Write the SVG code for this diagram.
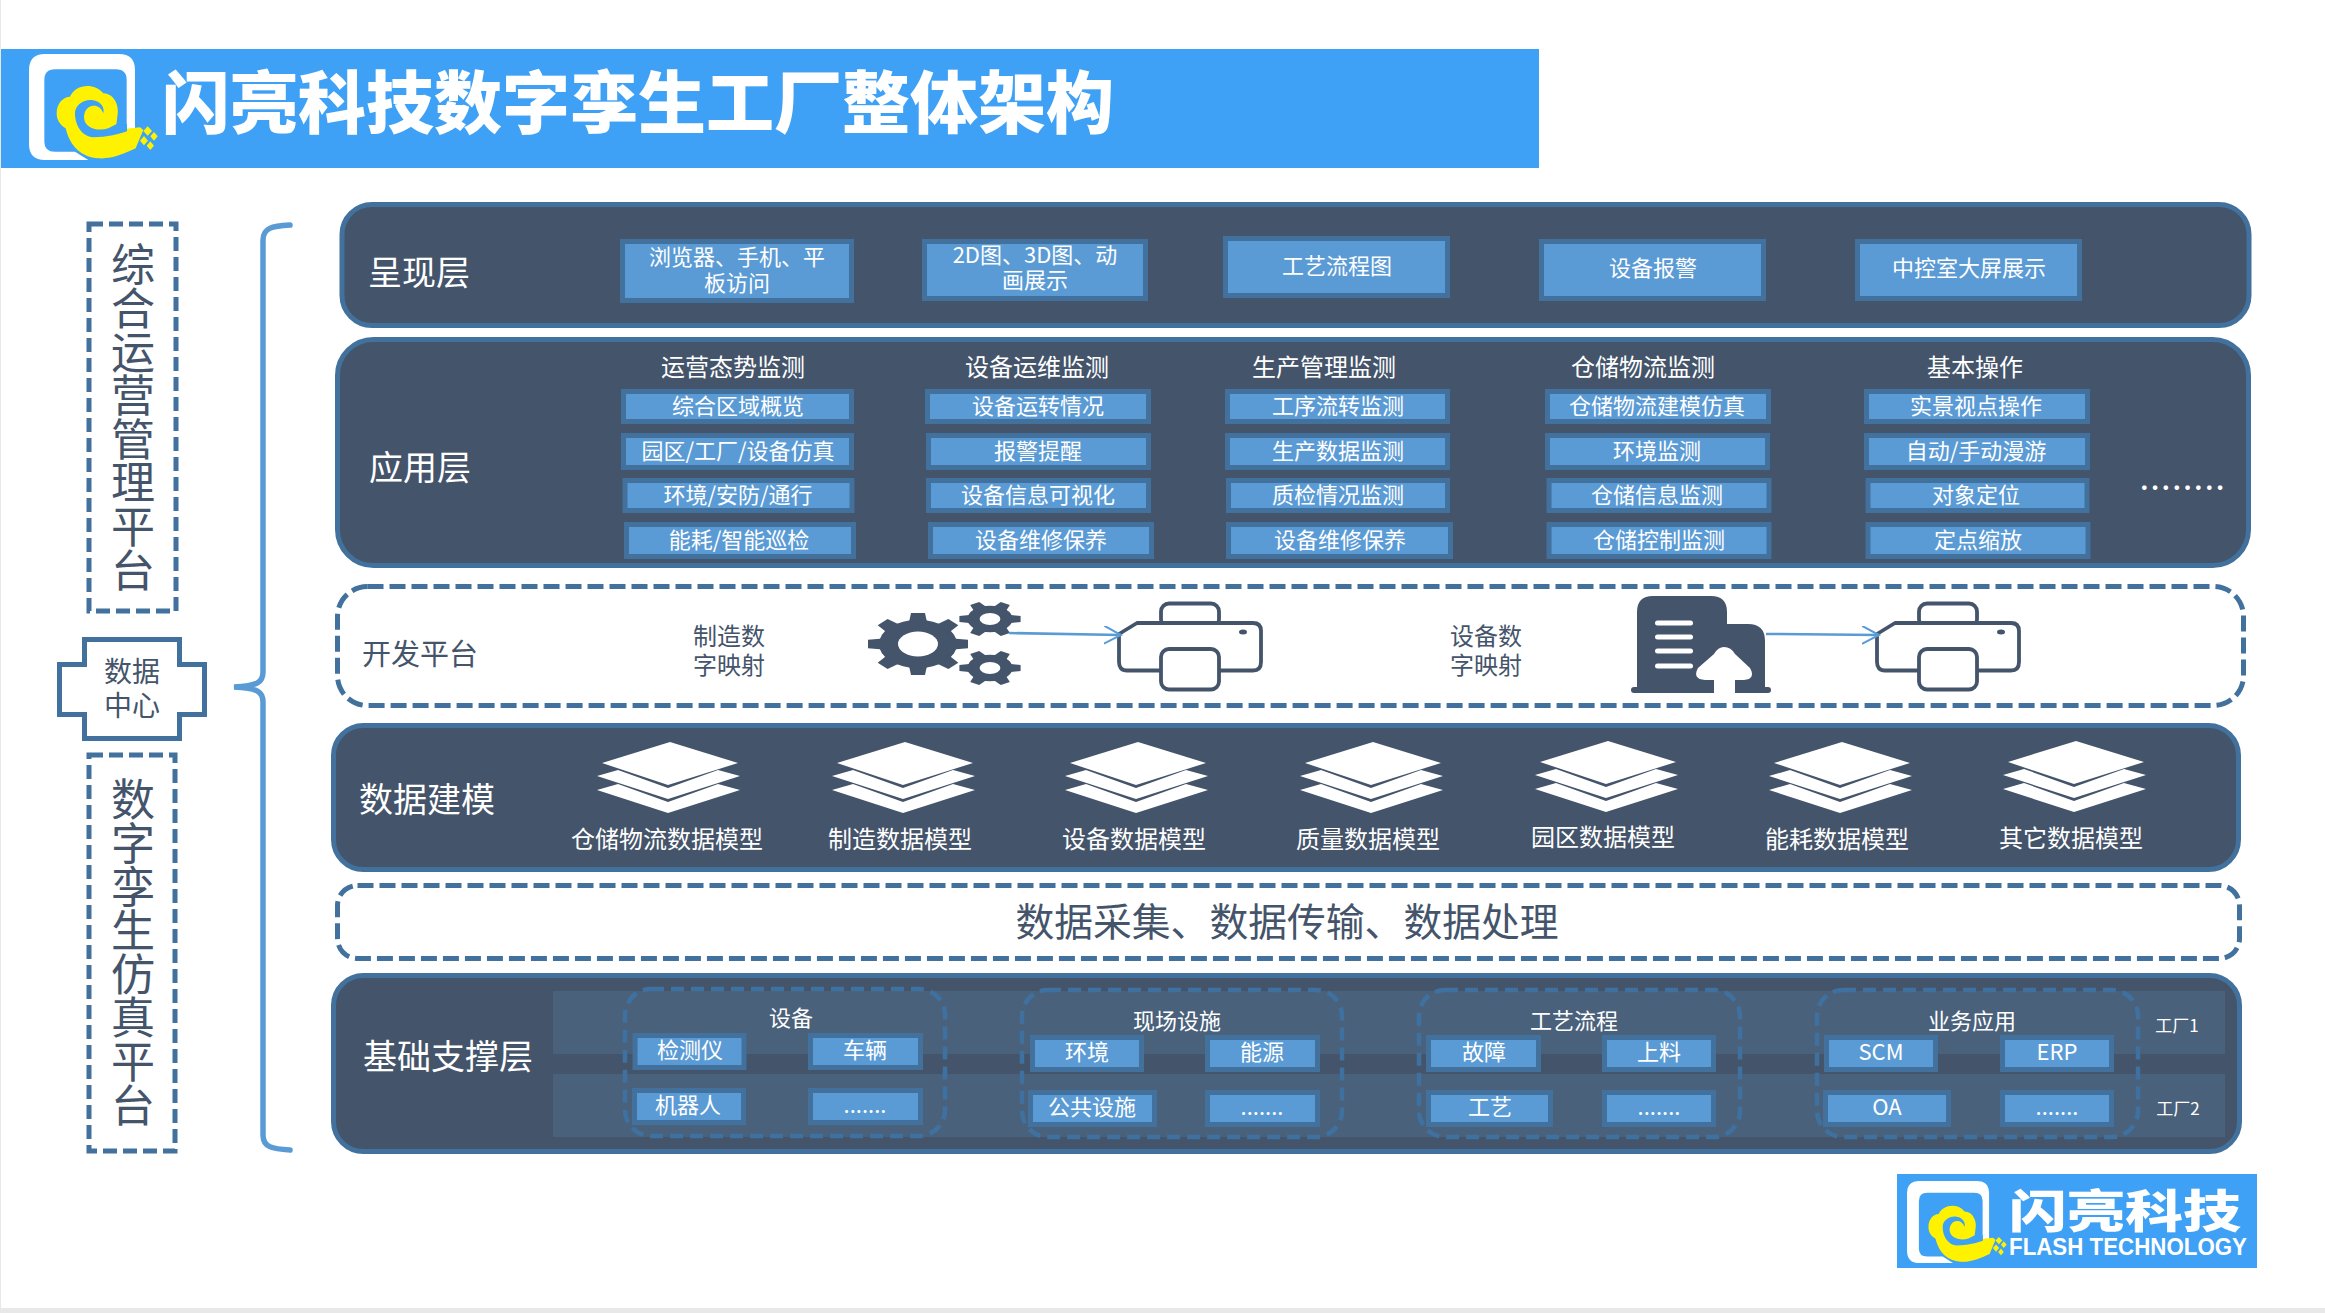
<svg xmlns="http://www.w3.org/2000/svg" width="2325" height="1313" viewBox="0 0 2325 1313">
<style>
text{font-family:"Noto Sans CJK SC","Noto Sans",sans-serif;text-anchor:middle;dominant-baseline:central}
.vert{writing-mode:vertical-rl;text-orientation:upright;letter-spacing:-.4px}
.layer{fill:#44546A;stroke:#41719C;stroke-width:5}
.dash{fill:#fff;stroke:#41719C;stroke-width:5;stroke-dasharray:16 6}
.gdash{fill:none;stroke:#3F71A0;stroke-width:4.5;stroke-dasharray:13 7}
.btn{fill:#5B9BD5;stroke:#41719C;stroke-width:5}
.bt{fill:#fff;font-size:22px}
.head{fill:#fff;font-size:24px}
.lbl{fill:#fff;font-size:34px}
.dark{fill:#44546A}
.wt{fill:#fff}
.band{fill:#4A617C}
.wire{fill:none;stroke:#5B9BD5;stroke-width:2.500}
.prn{fill:#fff;stroke:#44546A;stroke-width:3.800;stroke-linejoin:round}
</style>
<defs>
<marker id="arr" markerWidth="20" markerHeight="20" refX="17" refY="9" orient="auto" markerUnits="userSpaceOnUse"><path d="M0,0 L17,9 L0,18" fill="none" stroke="#5B9BD5" stroke-width="2"/></marker>
<path id="t8" d="M-18,-70 L-14,-100 H14 L18,-70Z"/>
<g id="gear8"><circle r="78"/><use href="#t8"/><use href="#t8" transform="rotate(45)"/><use href="#t8" transform="rotate(90)"/><use href="#t8" transform="rotate(135)"/><use href="#t8" transform="rotate(180)"/><use href="#t8" transform="rotate(225)"/><use href="#t8" transform="rotate(270)"/><use href="#t8" transform="rotate(315)"/><circle r="40" fill="#fff"/></g>
<path id="t6" d="M-24,-60 L-17,-100 H17 L24,-60Z"/>
<g id="gear6"><circle r="74"/><use href="#t6" transform="rotate(90)"/><use href="#t6" transform="rotate(150)"/><use href="#t6" transform="rotate(210)"/><use href="#t6" transform="rotate(270)"/><use href="#t6" transform="rotate(330)"/><use href="#t6" transform="rotate(30)"/><circle r="34" fill="#fff"/></g>
<g id="stack" fill="#fff"><path d="M2,0 L70,21 L0,43 L-66,21Z"/><path d="M-71,34 L-50,28 L0,46 L50,28 L72,34 L0,57Z"/><path d="M-71,48 L-50,42 L0,60 L50,42 L72,48 L0,71Z"/></g>
<g id="printer"><rect class="prn" x="44" y="3.500" width="58" height="24" rx="8"/><path class="prn" d="M20,23 H136 Q144,23 144,31 V62 Q144,70.500 136,70.500 H10 Q2,70.500 2,62 V34 Z"/><rect class="prn" x="44" y="49" width="58" height="40.500" rx="8"/><ellipse cx="126" cy="32" rx="4" ry="2.500" fill="#44546A"/></g>
<g id="logo" transform="translate(25,50) scale(.3333)">
<path fill="#fff" d="M60,12 H282 Q330,12 330,60 V238 H305 V90 Q305,58 273,58 H90 Q58,58 58,90 V275 Q58,305 90,305 H150 L190,330 H60 Q12,330 12,282 V60 Q12,12 60,12Z"/>
<path fill="#FFF200" d="M95,190 C95,160 115,140 135,140 C150,105 205,95 235,130 C265,130 285,165 277,200 C275,215 275,225 270,240 L345,232 L355,240 L332,295 C300,310 260,328 220,325 C170,322 135,290 122,235 C105,225 95,210 95,190Z"/>
<path fill="#3FA1F5" d="M150,190 C150,165 175,148 200,150 C225,152 240,170 235,190 C228,172 215,165 200,168 C182,172 172,195 180,215 C190,238 225,243 250,235 L275,222 L306,222 L306,244 C285,252 245,262 205,262 C170,260 150,225 150,190Z"/>
<path fill="#FFF200" d="M368,229 l13,14 l-13,14 l-13,-14Z M387,246 l11,13 l-11,13 l-11,-13Z M357,258 l12,14 l-12,14 l-12,-14Z M376,274 l11,13 l-11,13 l-11,-13Z"/>
</g>
</defs>
<rect width="2325" height="1313" fill="#fff"/>
<rect x="0" y="0" width="1" height="1313" fill="#e8e8e8"/>
<rect x="0" y="1308" width="2325" height="5" fill="#e8e8e8"/>

<g id="title">
<rect x="1" y="49" width="1538" height="119" fill="#3FA1F5"/>
<use href="#logo"/>
<text x="638" y="98.500" fill="#fff" font-size="68" font-weight="900">闪亮科技数字孪生工厂整体架构</text>
</g>

<g id="brand">
<rect x="1897" y="1174" width="360" height="94" fill="#3FA1F5"/>
<use href="#logo" transform="translate(1884.6,1139.2) scale(.774)"/>
<text transform="translate(2125,1208) scale(1,.78)" fill="#fff" font-size="58" font-weight="900">闪亮科技</text>
<text x="2128" y="1247" fill="#fff" font-size="23" font-weight="700" textLength="238" lengthAdjust="spacingAndGlyphs" style="font-family:'Liberation Sans',sans-serif">FLASH TECHNOLOGY</text>
</g>

<g id="platform-ops">
<rect class="dash" x="89" y="224" width="87" height="387" style="stroke-dasharray:14 6"/>
<text class="dark vert" font-size="44" x="133" y="417">综合运营管理平台</text>
</g>
<g id="data-center">
<path d="M84.500,639.500 H179.500 V664.500 H204.500 V714.500 H179.500 V738.500 H84.500 V714.500 H59.500 V664.500 H84.500Z" fill="#fff" stroke="#41719C" stroke-width="5"/>
<text class="dark" font-size="28" x="132" y="670">数据</text>
<text class="dark" font-size="28" x="132" y="704">中心</text>
</g>
<g id="platform-sim">
<rect class="dash" x="89" y="755" width="86" height="396" style="stroke-dasharray:14 6"/>
<text class="dark vert" font-size="44" x="133" y="952">数字孪生仿真平台</text>
</g>
<g id="brace"><path d="M290,225 C272,226 263,228 263,240 V672 C263,682 258,686 234,687 C258,688 263,692 263,702 V1135 C263,1147 272,1149 290,1150" fill="none" stroke="#5B9BD5" stroke-width="5.500" stroke-linecap="round"/></g>

<g id="layer-present">
<rect class="layer" x="342" y="204.500" width="1907" height="121" rx="30"/>
<text class="lbl" x="419" y="270">呈现层</text>
<g id="p1"><rect class="btn" x="622.500" y="241.500" width="229" height="59"/><text class="bt" x="737" y="255">浏览器、手机、平</text><text class="bt" x="737" y="281">板访问</text></g>
<g id="p2"><rect class="btn" x="924.500" y="241.500" width="221" height="57"/><text class="bt" x="1035" y="253">2D图、3D图、动</text><text class="bt" x="1035" y="278">画展示</text></g>
<g id="p3"><rect class="btn" x="1225.500" y="238.500" width="222" height="57"/><text class="bt" x="1337" y="264">工艺流程图</text></g>
<g id="p4"><rect class="btn" x="1541.500" y="241.500" width="222" height="57"/><text class="bt" x="1653" y="266">设备报警</text></g>
<g id="p5"><rect class="btn" x="1857.500" y="241.500" width="222" height="57"/><text class="bt" x="1969" y="266">中控室大屏展示</text></g>
</g>

<g id="layer-app">
<rect class="layer" x="337.500" y="339.500" width="1911" height="226" rx="36"/>
<text class="lbl" x="420" y="465">应用层</text>
<text class="head" x="733" y="365">运营态势监测</text>
<text class="head" x="1037" y="365">设备运维监测</text>
<text class="head" x="1324" y="365">生产管理监测</text>
<text class="head" x="1643" y="365">仓储物流监测</text>
<text class="head" x="1975" y="365">基本操作</text>
<g id="a11"><rect class="btn" x="623.500" y="391.500" width="228" height="30"/><text class="bt" x="738" y="404">综合区域概览</text></g>
<g id="a12"><rect class="btn" x="623.500" y="435.500" width="228" height="32"/><text class="bt" x="738" y="449">园区/工厂/设备仿真</text></g>
<g id="a13"><rect class="btn" x="625" y="480.500" width="227" height="30"/><text class="bt" x="738" y="493">环境/安防/通行</text></g>
<g id="a14"><rect class="btn" x="626.500" y="524.500" width="227" height="32"/><text class="bt" x="739" y="538">能耗/智能巡检</text></g>
<g id="a21"><rect class="btn" x="927.500" y="391.500" width="221" height="30"/><text class="bt" x="1038" y="404">设备运转情况</text></g>
<g id="a22"><rect class="btn" x="928.500" y="435.500" width="220" height="32"/><text class="bt" x="1038" y="449">报警提醒</text></g>
<g id="a23"><rect class="btn" x="928.500" y="480.500" width="220" height="30"/><text class="bt" x="1038" y="493">设备信息可视化</text></g>
<g id="a24"><rect class="btn" x="930.500" y="524.500" width="221" height="32"/><text class="bt" x="1041" y="538">设备维修保养</text></g>
<g id="a31"><rect class="btn" x="1227.500" y="391.500" width="220" height="30"/><text class="bt" x="1338" y="404">工序流转监测</text></g>
<g id="a32"><rect class="btn" x="1227.500" y="435.500" width="220" height="32"/><text class="bt" x="1338" y="449">生产数据监测</text></g>
<g id="a33"><rect class="btn" x="1228.500" y="480.500" width="219" height="30"/><text class="bt" x="1338" y="493">质检情况监测</text></g>
<g id="a34"><rect class="btn" x="1228.500" y="524.500" width="222" height="32"/><text class="bt" x="1340" y="538">设备维修保养</text></g>
<g id="a41"><rect class="btn" x="1547.500" y="391.500" width="221" height="30"/><text class="bt" x="1657" y="404">仓储物流建模仿真</text></g>
<g id="a42"><rect class="btn" x="1547.500" y="435.500" width="220" height="32"/><text class="bt" x="1657" y="449">环境监测</text></g>
<g id="a43"><rect class="btn" x="1549" y="480.500" width="220" height="30"/><text class="bt" x="1657" y="493">仓储信息监测</text></g>
<g id="a44"><rect class="btn" x="1549" y="524.500" width="220" height="32"/><text class="bt" x="1659" y="538">仓储控制监测</text></g>
<g id="a51"><rect class="btn" x="1866.500" y="391.500" width="221" height="30"/><text class="bt" x="1976" y="404">实景视点操作</text></g>
<g id="a52"><rect class="btn" x="1866.500" y="435.500" width="221" height="32"/><text class="bt" x="1976" y="449">自动/手动漫游</text></g>
<g id="a53"><rect class="btn" x="1868" y="480.500" width="219" height="30"/><text class="bt" x="1976" y="493">对象定位</text></g>
<g id="a54"><rect class="btn" x="1868" y="524.500" width="220" height="32"/><text class="bt" x="1978" y="538">定点缩放</text></g>
<text x="2184" y="490" fill="#fff" font-size="30" font-weight="700" letter-spacing="3.700" style="font-family:Lato,sans-serif;dominant-baseline:auto">........</text>
</g>

<g id="layer-dev">
<rect class="dash" x="337.500" y="586.500" width="1906" height="119" rx="30"/>
<text class="dark" font-size="29" x="420" y="652">开发平台</text>
<text class="dark" font-size="24" x="729" y="634">制造数</text>
<text class="dark" font-size="24" x="729" y="663">字映射</text>
<text class="dark" font-size="24" x="1486" y="634">设备数</text>
<text class="dark" font-size="24" x="1486" y="663">字映射</text>
<g id="gears" fill="#44546A">
<use href="#gear8" transform="translate(918,644) scale(.5,.31)"/>
<use href="#gear6" transform="translate(990,619) scale(.306,.18)"/>
<use href="#gear6" transform="translate(990,668) scale(.306,.18)"/>
</g>
<use id="printer1" href="#printer" transform="translate(1117,600)"/>
<g id="building">
<path class="dark" d="M1637,687 V612 Q1637,596 1653,596 H1711 Q1727,596 1727,612 V624 H1748 Q1765,624 1765,641 V687 H1768 Q1771,687 1771,690 Q1771,693 1768,693 H1634 Q1631,693 1631,690 Q1631,687 1634,687 Z"/>
<rect class="wt" x="1655" y="620.500" width="38" height="5" rx="2.500"/>
<rect class="wt" x="1655" y="634.500" width="38" height="5" rx="2.500"/>
<rect class="wt" x="1655" y="648.500" width="38" height="5" rx="2.500"/>
<rect class="wt" x="1655" y="663.500" width="38" height="5" rx="2.500"/>
<path class="wt" d="M1724,647 Q1731,647 1735,654 L1750,668 Q1756,679 1744,680 H1735 V693 H1714 V680 H1705 Q1692,679 1698,668 L1714,654 Q1718,647 1724,647Z"/>
</g>
<use id="printer2" href="#printer" transform="translate(1875,600)"/>
</g>

<g id="layer-model">
<rect class="layer" x="333.500" y="725.500" width="1905" height="144" rx="30"/>
<text class="lbl" x="427" y="797">数据建模</text>
<use href="#stack" transform="translate(668,742)"/><text class="head" x="667" y="837">仓储物流数据模型</text>
<use href="#stack" transform="translate(903,742)"/><text class="head" x="900" y="837">制造数据模型</text>
<use href="#stack" transform="translate(1136,742)"/><text class="head" x="1134" y="837">设备数据模型</text>
<use href="#stack" transform="translate(1371,742)"/><text class="head" x="1368" y="837">质量数据模型</text>
<use href="#stack" transform="translate(1606,741)"/><text class="head" x="1603" y="835">园区数据模型</text>
<use href="#stack" transform="translate(1840,742)"/><text class="head" x="1837" y="837">能耗数据模型</text>
<use href="#stack" transform="translate(2074,741)"/><text class="head" x="2071" y="836">其它数据模型</text>
</g>

<g id="layer-collect">
<rect class="dash" x="337.500" y="885.500" width="1902" height="73" rx="20"/>
<text class="dark" font-size="38.800" x="1287" y="919">数据采集、数据传输、数据处理</text>
</g>

<g id="layer-base">
<rect class="layer" x="333.500" y="975.500" width="1906" height="176" rx="30"/>
<rect class="band" x="553" y="991" width="1672" height="63"/>
<rect class="band" x="553" y="1074" width="1672" height="63"/>
<text class="lbl" x="448" y="1054">基础支撑层</text>
<rect id="g1" class="gdash" x="625" y="989" width="320" height="147" rx="26"/>
<rect id="g2" class="gdash" x="1022" y="990" width="320" height="147" rx="26"/>
<rect id="g3" class="gdash" x="1419" y="990" width="321" height="147" rx="26"/>
<rect id="g4" class="gdash" x="1817" y="990" width="321" height="147" rx="26"/>
<text class="bt" x="791" y="1016">设备</text>
<text class="bt" x="1177" y="1019">现场设施</text>
<text class="bt" x="1574" y="1019">工艺流程</text>
<text class="bt" x="1972" y="1019">业务应用</text>
<g id="b11"><rect class="btn" x="635" y="1035.500" width="109" height="32"/><text class="bt" x="690" y="1048">检测仪</text></g>
<g id="b12"><rect class="btn" x="810.500" y="1035.500" width="110" height="32"/><text class="bt" x="865" y="1048">车辆</text></g>
<g id="b13"><rect class="btn" x="634.500" y="1090.500" width="109" height="32"/><text class="bt" x="688" y="1103">机器人</text></g>
<g id="b14"><rect class="btn" x="810.500" y="1090.500" width="110" height="32"/><text class="bt" x="865" y="1103">.......</text></g>
<g id="b21"><rect class="btn" x="1032.500" y="1037.500" width="109" height="32"/><text class="bt" x="1087" y="1050">环境</text></g>
<g id="b22"><rect class="btn" x="1207.500" y="1037.500" width="110" height="32"/><text class="bt" x="1262" y="1050">能源</text></g>
<g id="b23"><rect class="btn" x="1030.500" y="1092.500" width="124" height="32"/><text class="bt" x="1092" y="1105">公共设施</text></g>
<g id="b24"><rect class="btn" x="1207.500" y="1092.500" width="110" height="32"/><text class="bt" x="1262" y="1105">.......</text></g>
<g id="b31"><rect class="btn" x="1428.500" y="1037.500" width="110" height="32"/><text class="bt" x="1484" y="1050">故障</text></g>
<g id="b32"><rect class="btn" x="1604.500" y="1037.500" width="109" height="32"/><text class="bt" x="1659" y="1050">上料</text></g>
<g id="b33"><rect class="btn" x="1428.500" y="1092.500" width="122" height="32"/><text class="bt" x="1490" y="1105">工艺</text></g>
<g id="b34"><rect class="btn" x="1604.500" y="1092.500" width="109" height="32"/><text class="bt" x="1659" y="1105">.......</text></g>
<g id="b41"><rect class="btn" x="1826.500" y="1037.500" width="109" height="32"/><text class="bt" x="1881" y="1050">SCM</text></g>
<g id="b42"><rect class="btn" x="2002.500" y="1037.500" width="109" height="32"/><text class="bt" x="2057" y="1050">ERP</text></g>
<g id="b43"><rect class="btn" x="1825.500" y="1092.500" width="123" height="32"/><text class="bt" x="1887" y="1105">OA</text></g>
<g id="b44"><rect class="btn" x="2002.500" y="1092.500" width="109" height="32"/><text class="bt" x="2057" y="1105">.......</text></g>
<text fill="#fff" font-size="17" x="2177" y="1024">工厂1</text>
<text fill="#fff" font-size="17" x="2178" y="1107">工厂2</text>
</g>

<g id="connectors">
<path class="wire" d="M1009,633 L1121,635" marker-end="url(#arr)"/>
<path class="wire" d="M1766,634 L1879,635" marker-end="url(#arr)"/>
</g>
</svg>
